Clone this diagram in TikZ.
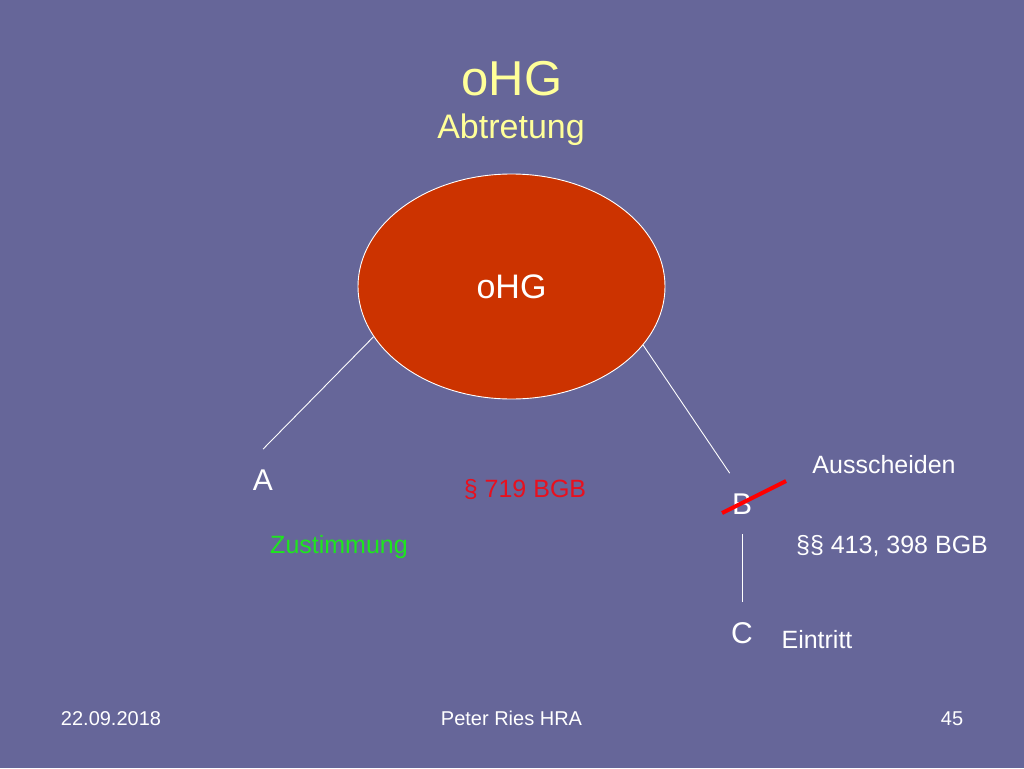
\documentclass[tikz,border=0pt]{standalone}
\usepackage{fontspec}
\setmainfont{Liberation Sans}
\usetikzlibrary{shapes.geometric}
\definecolor{slidebg}{HTML}{666699}
\definecolor{ohgred}{HTML}{CC3300}
\definecolor{titleyellow}{HTML}{FFFF99}
\definecolor{parared}{HTML}{E8101E}
\definecolor{okgreen}{HTML}{1EE61E}
\begin{document}
\begin{tikzpicture}[x=1pt,y=-1pt,
  txt/.style={anchor=base,inner sep=0pt,text=white,font=\fontsize{25}{30}\selectfont},
  letter/.style={anchor=base,inner sep=20pt,text=white,font=\fontsize{30}{36}\selectfont},
  foot/.style={anchor=base,inner sep=0pt,text=white,font=\fontsize{20}{24}\selectfont},
  link/.style={draw=white,line width=0.9pt}]
\fill[slidebg] (0,0) rectangle (1024,768);
\useasboundingbox (0,0) rectangle (1024,768);
% title
\node[txt,text=titleyellow,font=\fontsize{49}{56}\selectfont] (title) at (512,95) {oHG};
\node[txt,text=titleyellow,font=\fontsize{34}{40}\selectfont] (sub) at (511,138) {Abtretung};
% company and partners
\node[ellipse,draw=white,line width=0.9pt,fill=ohgred,text=white,minimum width=307pt,minimum height=225pt,inner sep=0pt,font=\fontsize{34}{40}\selectfont] (ohg) at (511.5,286.5) {oHG};
\node[letter] (a) at (263,490) {A};
\node[letter] (b) at (742,514) {B};
\node[letter] (c) at (742,643) {C};
\draw[link] (ohg.200) -- (a.north);
\draw[link] (ohg.336) -- (b.112);
\draw[link] (b.south) -- (c.north);
\draw[red,line width=4pt] (722,513) -- (786,481);
% texts
\node[txt,text=parared] (p719) at (525,497) {§ 719 BGB};
\node[txt,text=okgreen] (zust) at (339,553) {Zustimmung};
\node[txt] (aus) at (884,473) {Ausscheiden};
\node[txt] (p413) at (892,553) {§§ 413, 398 BGB};
\node[txt] (ein) at (817,648) {Eintritt};
% footer
\node[foot] (date) at (111,725) {22.09.2018};
\node[foot] (author) at (511.5,725) {Peter Ries HRA};
\node[foot] (page) at (952,725) {45};
\end{tikzpicture}
\end{document}
